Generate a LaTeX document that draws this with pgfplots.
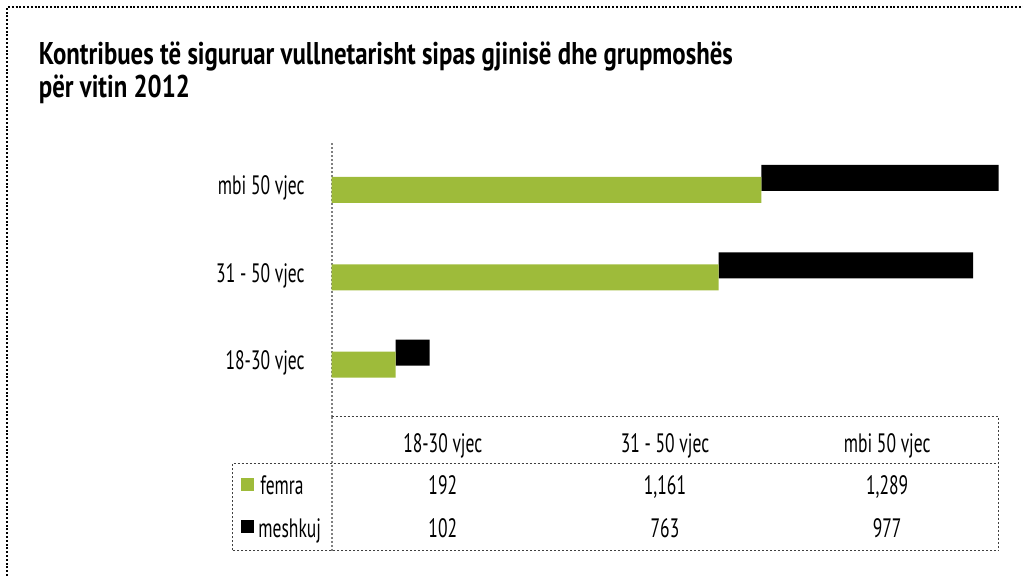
\documentclass[border=0pt]{standalone}
\usepackage{pgfplots}
\pgfplotsset{compat=1.18}
\usepackage{fontspec}
\usepackage{graphicx}
\setmainfont{PT Sans}
\newfontfamily\ptsans{PT Sans}
\definecolor{grn}{RGB}{158,187,58}
\newsavebox\boxA
\newsavebox\boxB
\newcommand\lblsize{\ptsans\fontsize{13.3}{14}\selectfont}
\newcommand\titlesize{\ptsans\bfseries\fontsize{15.7}{16}\selectfont}
\newcommand\lbl[1]{\scalebox{\sxB}[1]{\lblsize #1}}
\newcommand\ttl[1]{\scalebox{\sxA}[1]{\titlesize #1}}
\begin{document}
\sbox\boxA{\titlesize Kontribues të siguruar vullnetarisht sipas gjinisë dhe grupmoshës}%
\sbox\boxB{\lblsize 18-30 vjec}%
\pgfmathsetmacro\sxA{347/\the\wd\boxA}%
\pgfmathsetmacro\sxB{39.5/\the\wd\boxB}%
\begin{tikzpicture}
\path[use as bounding box] (0,0) rectangle (511.5pt,288pt);
\draw[line width=1pt, dash pattern=on 1pt off 0.9pt] (3.5pt,0) -- (3.5pt,284.5pt) -- (511.5pt,284.5pt);
\node[anchor=base west, inner sep=0pt] at (19.25pt,255.5pt) {\ttl{Kontribues të siguruar vullnetarisht sipas gjinisë dhe grupmoshës}};
\node[anchor=base west, inner sep=0pt] at (19.25pt,239pt) {\ttl{për vitin 2012}};
\begin{axis}[
  scale only axis, width=333.5pt, height=137pt,
  at={(165.75pt,79.5pt)}, anchor=south west,
  xmin=0, xmax=2000, ymin=-0.67, ymax=2.47,
  axis x line=none, xtick=\empty,
  axis y line*=left,
  y axis line style={draw=gray, line width=1pt, dash pattern=on 1pt off 1pt, -},
  ytick={0,1,2},
  yticklabels={\lbl{18-30 vjec},\lbl{31 - 50 vjec},\lbl{mbi 50 vjec}},
  major tick length=0pt,
  yticklabel style={anchor=base east, inner sep=0pt, xshift=-13.25pt, yshift=-5.4pt},
  stack plots=x,
  bar width=13pt,
]
\addplot[xbar, bar shift=-3pt, fill=grn, draw=none] coordinates {(192,0) (1161,1) (1289,2)};
\addplot[xbar, bar shift=3pt, fill=black, draw=none] coordinates {(102,0) (763,1) (977,2)};
\end{axis}
\begin{scope}[black!75, line width=0.5pt, dash pattern=on 1pt off 1pt]
\draw (165.75pt,79.5pt) -- (499.25pt,79.5pt) -- (499.25pt,12.5pt) -- (116pt,12.5pt) -- (116pt,56pt) -- (499.25pt,56pt);
\end{scope}
\draw[gray, line width=1pt, dash pattern=on 1pt off 1pt] (165.75pt,79.5pt) -- (165.75pt,12.5pt);
\node[anchor=base] at (221.4pt,61.5pt) {\lbl{18-30 vjec}};
\node[anchor=base] at (332.5pt,61.5pt) {\lbl{31 - 50 vjec}};
\node[anchor=base] at (443.6pt,61.5pt) {\lbl{mbi 50 vjec}};
\node[anchor=base] at (221.4pt,40.5pt) {\lbl{192}};
\node[anchor=base] at (332.5pt,40.5pt) {\lbl{1,161}};
\node[anchor=base] at (443.6pt,40.5pt) {\lbl{1,289}};
\node[anchor=base] at (221.4pt,19pt) {\lbl{102}};
\node[anchor=base] at (332.5pt,19pt) {\lbl{763}};
\node[anchor=base] at (443.6pt,19pt) {\lbl{977}};
\fill[grn] (120.5pt,42.5pt) rectangle (127pt,49pt);
\fill[black] (120.5pt,21.5pt) rectangle (127pt,28pt);
\node[anchor=base west, inner sep=0pt] at (130pt,40.5pt) {\lbl{femra}};
\node[anchor=base west, inner sep=0pt] at (129pt,19pt) {\lbl{meshkuj}};
\end{tikzpicture}
\end{document}
